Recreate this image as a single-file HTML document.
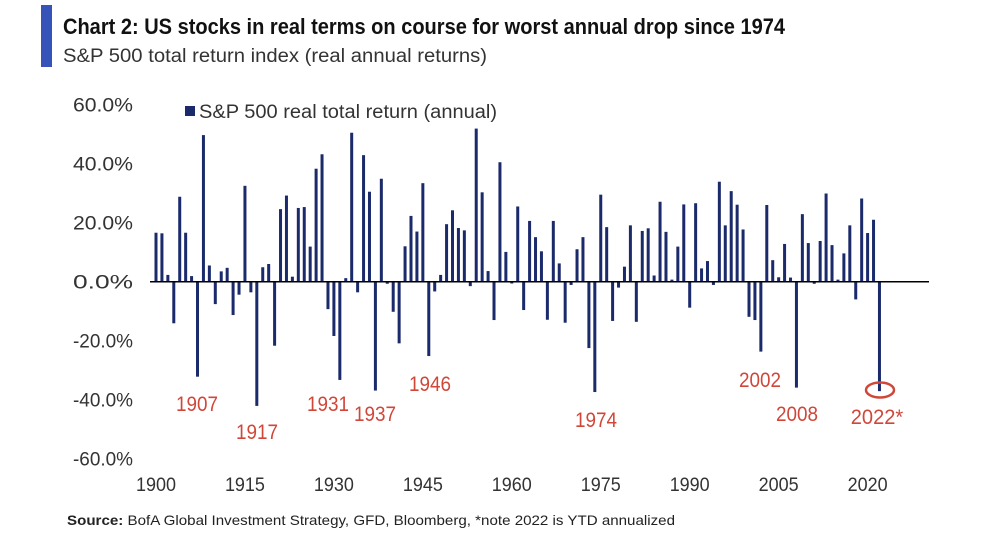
<!DOCTYPE html>
<html><head><meta charset="utf-8"><style>
body{margin:0;background:#fff;}
svg{display:block;font-family:"Liberation Sans",sans-serif;}
</style></head><body>
<svg id="chart" width="1000" height="535" viewBox="0 0 1000 535">
<rect x="41" y="5" width="11" height="62" fill="#3553b8"/>
<text x="63" y="34" font-size="22" font-weight="bold" fill="#111" textLength="722" lengthAdjust="spacingAndGlyphs">Chart 2: US stocks in real terms on course for worst annual  drop since 1974</text>
<text x="63" y="62" font-size="19" fill="#333" textLength="424" lengthAdjust="spacingAndGlyphs">S&amp;P 500 total return index (real annual returns)</text>
<rect x="185" y="106" width="10" height="10" fill="#1b2a6b"/>
<text x="199" y="118" font-size="19" fill="#333" textLength="298" lengthAdjust="spacingAndGlyphs">S&amp;P 500 real total return (annual)</text>
<g id="yaxis"></g>
<g id="xaxis"></g>
<g id="bars"></g>
<line x1="150" y1="281.7" x2="929" y2="281.7" stroke="#000" stroke-width="1.5"/>
<g id="ann"></g>
<ellipse cx="880" cy="390" rx="14" ry="7.5" fill="none" stroke="#d0473a" stroke-width="2.5"/>
<text x="67" y="525" font-size="14" fill="#222" textLength="608" lengthAdjust="spacingAndGlyphs"><tspan font-weight="bold">Source:</tspan>  BofA Global Investment Strategy, GFD, Bloomberg, *note 2022  is YTD annualized</text>
</svg>
<script>
const years=[];for(let y=1900;y<=2022;y++)years.push(y);
const values=[16.6,16.4,2.3,-14.1,28.8,16.6,1.9,-32.2,49.7,5.5,-7.6,3.5,4.7,-11.3,-4.4,32.5,-3.6,-42.1,4.9,6.0,
-21.7,24.6,29.2,1.7,25.0,25.3,11.9,38.3,43.2,-9.3,-18.4,-33.3,1.2,50.5,-3.6,42.9,30.5,-36.9,34.9,-0.7,
-10.2,-20.9,12.0,22.3,17.0,33.4,-25.2,-3.3,2.3,19.5,24.2,18.2,17.4,-1.5,51.9,30.3,3.6,-13.0,40.5,10.1,
-0.6,25.5,-9.6,20.6,15.1,10.3,-12.9,20.6,6.2,-13.9,-1.1,11.0,15.1,-22.5,-37.4,29.5,18.5,-13.3,-2.0,5.1,
19.1,-13.6,17.2,18.1,2.1,27.1,16.9,0.7,11.9,26.2,-8.8,26.6,4.5,7.0,-1.1,33.9,19.1,30.7,26.1,17.7,
-11.9,-13.0,-23.7,26.0,7.3,1.5,12.8,1.4,-35.9,22.9,13.1,-0.7,13.8,29.9,12.4,0.7,9.6,19.1,-6.0,28.2,16.5,21.0,-37.1];
const yTicks=[60,40,20,0,-20,-40,-60];
const xTicks=[1900,1915,1930,1945,1960,1975,1990,2005,2020];
const annYears=["1907","1917","1931","1937","1946","1974","2002","2008","2022*"];
const annX=[197,257,328,375,430,596,760,797,877];
const annY=[411,439,411,421,391,427,387,421,424];
const NS="http://www.w3.org/2000/svg";
const X=y=>156+(y-1900)*5.93;
const Y=v=>281.7-v*2.95;
function mk(tag,attrs,parent){const e=document.createElementNS(NS,tag);for(const k in attrs)e.setAttribute(k,attrs[k]);parent.appendChild(e);return e;}
const yg=document.getElementById('yaxis');
yTicks.forEach(t=>{const e=mk('text',{x:133,y:Y(t)+7,'font-size':19,fill:'#333','text-anchor':'end',textLength:60,lengthAdjust:'spacingAndGlyphs'},yg);


e.textContent=t.toFixed(1)+'%';});
const xg=document.getElementById('xaxis');
xTicks.forEach(t=>{const e=mk('text',{x:X(t),y:491,'font-size':19,fill:'#333','text-anchor':'middle',textLength:40,lengthAdjust:'spacingAndGlyphs'},xg);


e.textContent=t;});
const bg=document.getElementById('bars');
years.forEach((yr,i)=>{const v=values[i];const y0=Y(Math.max(v,0)),h=Math.abs(Y(v)-Y(0));
const r=mk('rect',{x:X(yr)-1.5,y:y0,width:3,height:h,fill:'#1b2a6b'},bg);

});
const ag=document.getElementById('ann');
annYears.forEach((a,i)=>{const e=mk('text',{x:annX[i],y:annY[i],'font-size':21,fill:'#d0473a','text-anchor':'middle',textLength:a.length*10.5,lengthAdjust:'spacingAndGlyphs'},ag);


e.textContent=a;});
</script>
</body></html>
